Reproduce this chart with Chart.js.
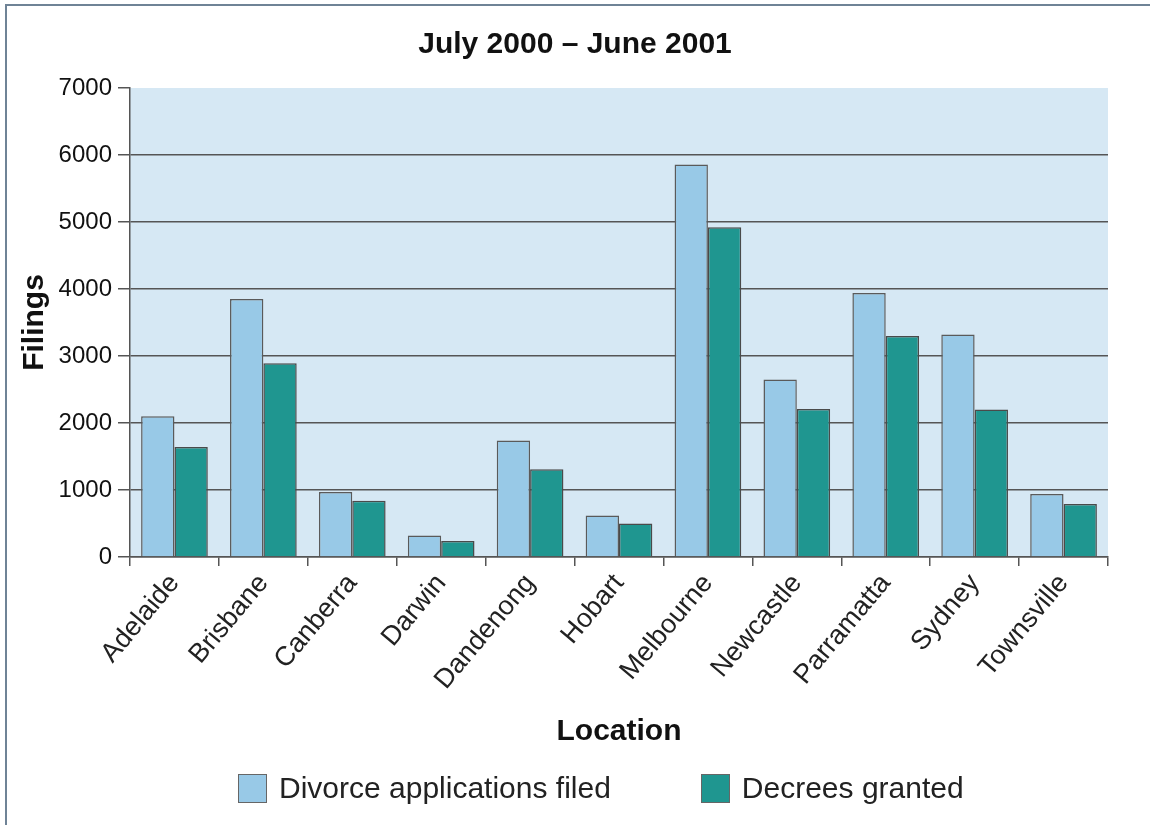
<!DOCTYPE html>
<html>
<head>
<meta charset="utf-8">
<script src="https://cdn.jsdelivr.net/npm/chart.js@4"></script>
<style>
    body { margin: 0; background: #fff; }
    .wrap { position: relative; width: 1150px; height: 825px; overflow: hidden; }
    .frame {
        position: absolute; left: 5px; top: 4px; width: 1200px; height: 900px;
        border-top: 2px solid #6f8396; border-left: 2px solid #6f8396;
        pointer-events: none;
    }
    #legend {
        position: absolute; left: 238px; top: 771px;
        display: flex; align-items: center;
        font-family: "Liberation Sans", Arial, sans-serif; font-size: 30px; color: #222;
    }
    #legend .item { display: flex; align-items: center; margin-right: 90px; }
    #legend .box { display: inline-block; width: 27px; height: 27px; border: 1.5px solid #666; margin-right: 12px; }
</style>
</head>
<body>
<div class="wrap">
    <canvas id="myChart" width="1150" height="825"></canvas>
    <div class="frame"></div>
    <div id="legend"></div>
</div>
<script>
const locations = ['Adelaide', 'Brisbane', 'Canberra', 'Darwin', 'Dandenong', 'Hobart',
    'Melbourne', 'Newcastle', 'Parramatta', 'Sydney', 'Townsville'];
const applicationsFiled = [2100, 3850, 970, 320, 1740, 620, 5860, 2650, 3940, 3320, 940];
const decreesGranted = [1640, 2890, 840, 240, 1310, 500, 4920, 2210, 3300, 2200, 790];
const yTicks = [0, 1000, 2000, 3000, 4000, 5000, 6000, 7000];

const FONT = '"Liberation Sans", Arial, sans-serif';

// light blue background behind the bars
const plotBackground = {
    id: 'plotBackground',
    beforeDraw(chart) {
        const {ctx, chartArea} = chart;
        ctx.save();
        ctx.fillStyle = '#d6e8f4';
        ctx.fillRect(chartArea.left, chartArea.top, chartArea.width, chartArea.height);
        ctx.restore();
    }
};

// legend as html, built from the chart's own legend items
const htmlLegend = {
    id: 'htmlLegend',
    afterUpdate(chart) {
        const box = document.getElementById('legend');
        box.innerHTML = '';
        const items = chart.options.plugins.legend.labels.generateLabels(chart);
        items.forEach(item => {
            const el = document.createElement('div');
            el.className = 'item';
            const sw = document.createElement('span');
            sw.className = 'box';
            sw.style.background = item.fillStyle;
            const txt = document.createElement('span');
            txt.textContent = item.text;
            el.appendChild(sw);
            el.appendChild(txt);
            box.appendChild(el);
        });
    }
};

function renderChart() {
    const data = {
        labels: locations,
        datasets: [{
            label: 'Divorce applications filed',
            data: applicationsFiled,
            backgroundColor: '#98c9e7',
            borderColor: '#5a5a5a',
            borderWidth: 1.5
        }, {
            label: 'Decrees granted',
            data: decreesGranted,
            backgroundColor: '#1f9690',
            borderColor: '#4a4a4a',
            borderWidth: 1.5
        }]
    };

    const config = {
        type: 'bar',
        data,
        options: {
            responsive: false,
            animation: false,
            categoryPercentage: 0.75,
            barPercentage: 1,
            // symmetric padding keeps the title centred on the page
            layout: { padding: { left: 21, right: 21, top: 0, bottom: 65 } },
            plugins: {
                legend: { display: false },
                tooltip: { enabled: false },
                title: {
                    display: true,
                    text: 'July 2000 \u2013 June 2001',
                    color: '#111',
                    font: { family: FONT, size: 30, weight: 'bold' },
                    padding: { top: 27, bottom: 25 }
                }
            },
            scales: {
                x: {
                    afterFit(scale) {
                        scale.height = 203;
                        scale.paddingRight = 42;
                    },
                    grid: {
                        offset: true,
                        drawOnChartArea: false,
                        tickLength: 9,
                        tickColor: '#555',
                        lineWidth: 1.5
                    },
                    border: { color: '#555', width: 1.5 },
                    ticks: {
                        color: '#222',
                        font: { family: FONT, size: 27 },
                        minRotation: 50,
                        maxRotation: 50,
                        padding: 2
                    },
                    title: {
                        display: true,
                        text: 'Location',
                        color: '#111',
                        font: { family: FONT, size: 30, weight: 'bold' },
                        padding: { top: 0, bottom: 10 }
                    }
                },
                y: {
                    min: 0,
                    max: 7000,
                    afterFit(scale) { scale.width = 109; },
                    afterBuildTicks(scale) { scale.ticks = yTicks.map(v => ({ value: v })); },
                    grid: {
                        color: ctx => ctx.tick && ctx.tick.value === 7000 ? 'rgba(0,0,0,0)' : '#555',
                        tickColor: '#555',
                        lineWidth: 1.5,
                        tickLength: 12
                    },
                    border: { color: '#555', width: 1.5 },
                    ticks: {
                        color: '#111',
                        font: { family: FONT, size: 24 },
                        padding: 6,
                        callback: v => String(v)
                    },
                    title: {
                        display: true,
                        text: 'Filings',
                        color: '#111',
                        font: { family: FONT, size: 30, weight: 'bold' },
                        padding: { top: -4, bottom: 0 }
                    }
                }
            }
        },
        plugins: [plotBackground, htmlLegend]
    };

    new Chart(document.getElementById('myChart'), config);
}

renderChart();
</script>
</body>
</html>
